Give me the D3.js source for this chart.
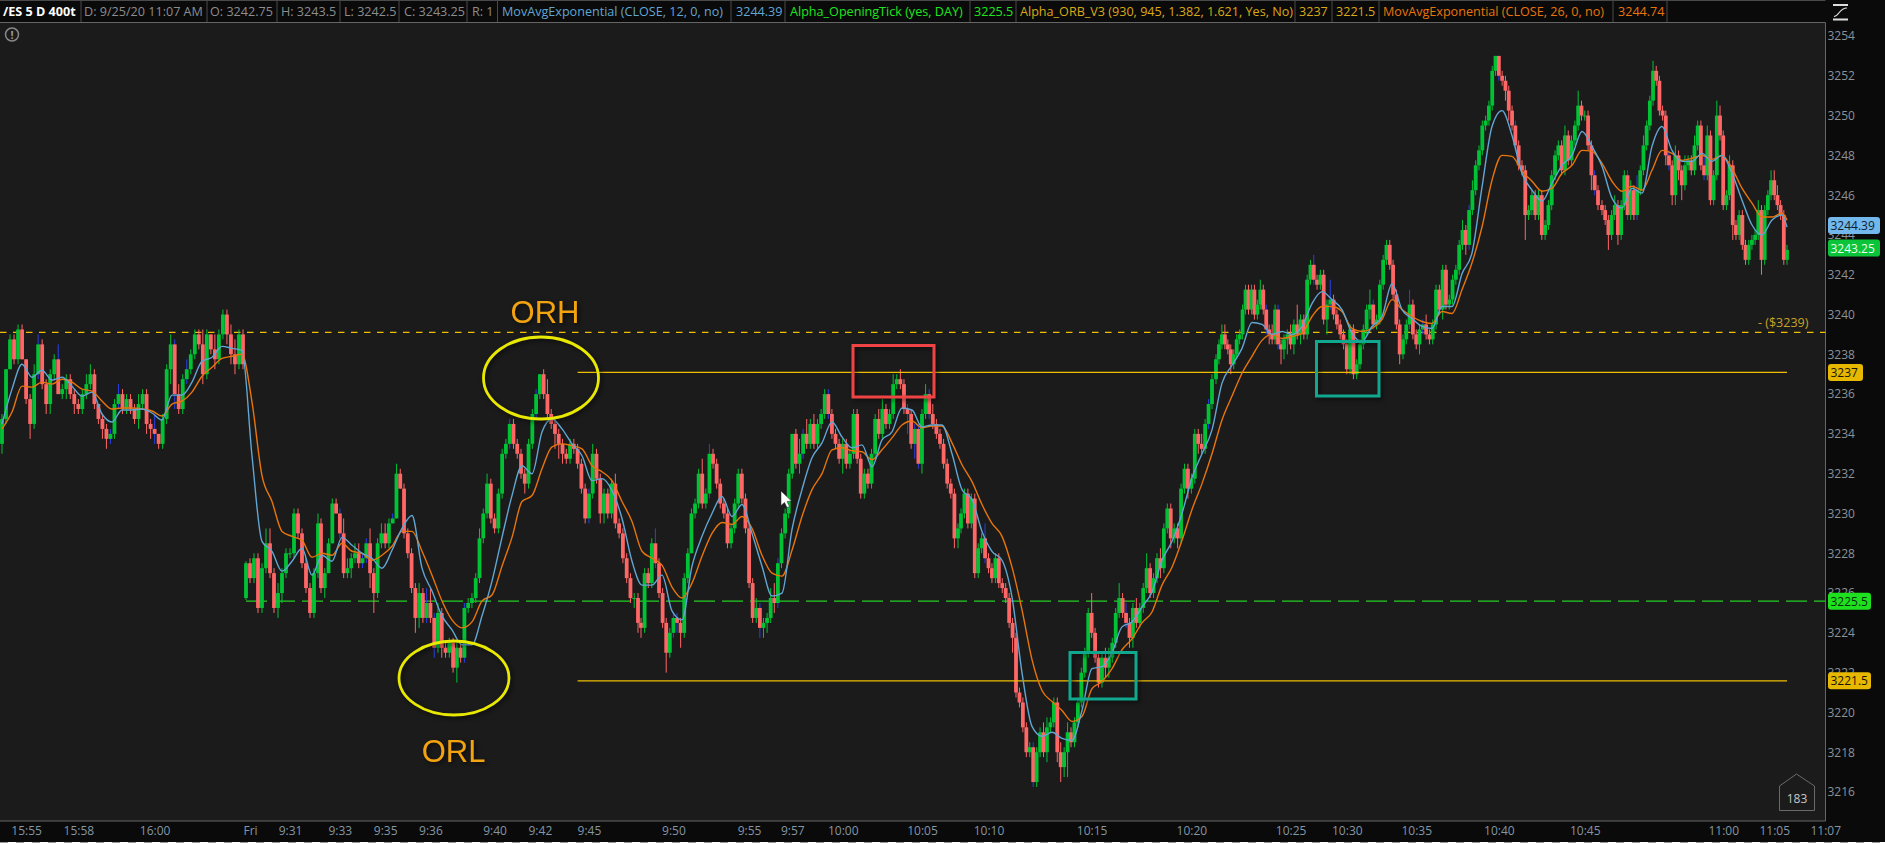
<!DOCTYPE html>
<meta charset="utf-8">
<script src="https://cdn.jsdelivr.net/npm/d3@7"></script>
<style>
	html,body{margin:0;padding:0;background:#1b1b1b;overflow:hidden;}
	text{font-family:"Open Sans",sans-serif;font-size:12px;}
</style>
<div id='chart'></div>
<script>
// prices are stored as offset from 3200, in tick-bar order, one run of arrays per stretch of the chart
var priceBase = 3200
var sessionOpen = 25.75 // first bar after the Fri break

var closesA = [34.75,37.25,38.75,37.75,39.25,37.75,35.75,34.5,37,38.5,36.5,35.5,37,37.75,36,36.25,36.75,36,35.5,35.25,36,36.5,37,35.5,34.75,34.25,33.75,34,35.5,36,35.25,35.75,35.25,34.75,35.5,36,34.5,34.25,34,33.5,34.75,37.25,38.5,36,35.25,36.75,37.25,38,39,38.5,37,39,38.25,37.75,39,40,39,38,37.5,39,37.5]
var wickUpA = [.25,0,.25,.25,.25,.25,0,.25,.5,.5,.25,.25,.25,.25,.75,.25,.25,.25,.25,.25,.25,.5,.5,.25,0,.25,.25,.25,.25,.5,.25,.25,.25,.25,.5,.25,.25,.25,.75,0,.25,.25,.5,.25,.5,.25,.5,.25,.25,.25,.75,.25,0,.75,.25,.25,.25,.5,.75,.25,.25]
var wickDnA = [.5,.25,0,.25,.25,0,.25,.75,.25,.25,.25,.5,.5,.25,0,.25,.5,.25,.5,.25,.25,.25,.25,.25,.25,.5,.5,.25,.25,.25,.25,.25,.25,.25,.5,.25,.5,.5,.5,.25,.25,.25,.75,.75,.25,.25,.25,.25,.25,.25,.5,.25,.25,.5,.25,.25,.5,.5,.5,.25,.25]

var closesB = [27.5,26.75,27.75,25.25,27.25,28.5,27,25.25,26,27,28,28,30,29,27.5,26.25,25,27,29.5]
var wickUpB = [.1,.25,.25,.25,.25,.75,.75,.25,.5,.25,.25,.25,.25,.25,.25,.25,.25,.25,.5]
var wickDnB = [.1,.25,.25,.25,.25,.25,.25,.25,.5,.5,.25,.25,.25,.25,.25,.25,.25,.25,.25]

var closesC = [26.25,27,28.5,30.5,30,29,27,27.25,27.75,28,27.5,27.75,28.5,27,26,28.5,29,28.5,29.5,29.75,32,31.25,29,28,26.25,24.75,26,24.75,25.5,24.75,23.25,25,23.25,23,23.5,22.25,23.25,22.75,25.25,25.5,25.75,26.75,28.75,30,31.5,29.75,29.25,31,33,33.5,34.5,33.5,33,32,31.5,33.5,35,36,37,36,35,34.5,34,33.5,33,32.75,33.5,33.25,32.5,31.25,29.75,31,33,31.75,30,31,30,31.5,29.5,29,27.75,26.75,25.75,25.75,24.5]
var wickUpC = [.25,.25,.25,.25,.25,.25,.75,.5,.25,.5,.5,.25,.25,.75,.25,.25,.5,.5,.25,.25,.5,.25,.25,.25,.25,.25,.5,.25,.75,.75,.25,.5,.25,.25,.25,.25,.25,.25,.25,.25,.25,.25,.5,.25,.5,.25,.25,.25,.25,.25,.25,.25,.25,.25,.25,.25,.25,.25,0,.25,.75,.25,.25,.25,.25,.25,.25,.25,.25,.25,.25,.25,.5,.25,.25,.25,.25,.25,.5,.25,.25,.25,.25,.25,.25]
var wickDnC = [.25,.5,0,0,0,.25,.25,.25,.5,.25,.25,.25,.25,.75,1,.25,.25,.25,.25,0,0,0,.25,.25,.25,.75,.5,.25,.25,.25,.5,.25,.5,.25,.25,.25,.75,.25,.25,.25,.25,.25,.25,.25,.25,.25,.25,.25,.25,.25,.25,.25,.25,.25,.5,.25,.25,.25,.25,.25,.25,.25,.75,.75,.5,.25,.25,.25,.25,.25,.25,.25,.25,.25,.5,.5,.25,.25,.25,.25,.25,.25,.25,.5,.5]

var closesD = [24.25,27,26.5,28.5,27.5,26,24.5,23,24,24.75,24.5,24,26.75,28,30,30.5,32,30.5,31,33,32.5,31.5,30.5,30,28.5,29.25,30.5,32,30.75,29.25,26.5,24.75,25.25,24.25,24.5,24.75,25.75,25.5,27.5,29,30,32,34,32.5,33,34,33.5,34.5,33.5,34.5,35,36,35,34,33.5,32.75,33.5,32.5,33,35,32.75,31,32,31.5,33,34.75,34,35.25,34.5,35,36.5,36.75,36.5,35.25,35,33.5,34.25,32.5,35,36,35,34.5,34,33.5,32.5,31.5,31,28.75,29.25]
var wickUpD = [.25,.25,.25,.25,.75,.25,.25,.25,.25,.25,.25,.25,.25,.25,.25,.25,.25,.75,.25,.5,.25,.25,.25,.25,.25,.25,.25,.25,.25,.25,.25,.25,.5,.25,.25,.25,.5,.75,.25,.25,.25,.25,0,.25,.75,.25,.75,.25,.5,.25,.25,.25,.25,.25,.25,.25,.25,.25,.25,.25,.25,.25,.25,.25,.25,.25,.5,.5,.25,.25,.5,.25,.5,.25,.25,.25,.25,.25,.25,.5,.25,.5,.25,.25,.25,.25,.25,.25,.25]
var wickDnD = [.5,.25,.25,.25,.25,.25,.25,1,.25,.25,.5,.75,.25,.25,0,.25,.25,.25,.25,.25,.25,.25,.25,.25,.25,.25,.25,.25,.25,.25,.25,.25,.25,.5,.5,.5,.25,.5,.25,.25,.25,.25,.25,.25,.5,.25,.25,.25,.25,.25,.25,.25,.25,.25,.25,.25,.75,.25,.25,.25,.25,.25,.25,.25,.25,.25,.25,.25,.25,.25,.25,.25,.25,.25,1,.25,.75,.25,.5,.25,.25,.25,.25,.25,.25,.25,.25,.5,.5]

var closesE = [30,31,29.5,30.75,27,28.25,28.75,27.75,27.25,26.75,27.75,26.5,26.25,25.75,24.5,23.75,21,20.5,19.25,18,18.25,16.5,18,19,18,19.25,19.5,20.5,18,17.25,18,19,18.5,19.5,20.5,22,23,25,24,22.75,21.5,22.75,22.25,22.75,23.5,25,25.75,25,24.5,23.75,25.25,24.5,25.25,26.25,27.25,26,26.75,27.75,27.25,29.25,30.25,28.75,29.25,28.75,31.25,32.25,31.25,31.75,34,33.5,33.25,34.5,35.5,36.75]
var wickUpE = [.25,.25,.25,.25,.25,.25,.25,.75,.25,.25,.25,.25,.25,.25,.25,.25,.25,.25,.25,.25,.25,.25,.25,.25,.5,.5,.25,.25,.25,.5,.25,.5,.25,.25,.25,.25,.25,.25,1,.25,.25,.25,.5,.5,.25,.25,.75,.25,.5,.25,.25,.5,.25,.25,.75,.25,.25,.25,.5,.25,.25,.25,.25,.25,.25,.25,.25,.25,.25,.25,.5,.25,.25,.25]
var wickDnE = [.25,.25,.25,.25,.25,.25,.25,.25,.25,.25,.25,.25,.25,.25,.25,.75,.25,.25,.25,.25,.25,.25,.25,.25,.25,.5,.25,.25,.5,.75,.5,1.25,.25,.25,.25,.25,.25,.25,.25,.25,.25,.25,.5,.5,.25,.25,.25,.25,.25,.5,.5,.25,.25,.25,.25,.25,.25,.25,.5,.25,.25,.5,.25,.5,.25,.25,.5,.25,.25,.5,.25,.25,.25,.25]

var closesF = [37.75,38.5,39,38.5,38.25,37.5,38,38.75,39,40.25,41.25,40.25,41.25,40,40.5,41.25,40.25,39.25,39,38.75,40.25,38.5,38.25]
var wickUpF = [.25,.25,.5,.5,.25,.25,.25,.25,.25,.25,.25,.25,.25,.25,.25,.5,.25,.25,.25,.5,.25,.25,.25]
var wickDnF = [.25,.25,.25,.25,.25,.5,.25,.25,.25,.25,.25,.25,.25,.25,.25,.25,.25,.25,.5,.25,.25,.25,.75]

var closesG = [38.75,39,38.5,39.5,39,39.75,39,41.75,42.5,41.75,41.5,42,39.75,40.5,40.75,40,39.5,39,38.5,37.25,39.25,37,37.5,38.5,39.25,40.25,40.5,39.5,39.75,41.5,42.75,43.5,42.5,41,39.5,38,38.75,39.5,40.5,39,38.5,39.25,39.5,39,38.75,39.5,41.25,40.25,42.25,40.5,40.75,41.75,42.25,43.5,44.25,43.5,45.25,46.25,47.5,48.25,49.5,49.75,50.5,52.25,53,52,51.75,51.25,50.25,49.5,48.5,47.5,47.25,45,45.25,46,45,46,44,44.5,45.5,47,48,48.5,47.25,49,47.75,48.75,49.5,50.5,50,50,48.5,47,46.25,45.5]
var wickUpG = [.25,.25,.5,.25,1,.25,.25,.25,.25,.5,.25,.25,.25,.25,1,.25,.25,.25,.25,.25,.25,.25,.25,.25,.25,.25,.75,.25,.25,.25,.25,.25,.25,.25,.25,.25,.25,.25,.75,.25,.25,.25,.25,.5,.25,.25,.25,.25,.25,.25,.25,.25,.25,.25,.5,.25,.25,.5,.25,.25,.25,.25,.25,.25,0,0,.25,.25,.25,.25,.25,.25,.25,.25,.25,.25,.25,.25,.25,.25,.25,.25,.25,.25,.25,.5,.25,.25,.25,.75,.25,.25,.25,.25,.25,.25]
var wickDnG = [.5,.75,.25,.5,.25,.5,.25,.25,.25,.25,.25,.25,.25,.75,.25,.25,.25,.25,.25,.25,.25,.25,.25,.25,.25,.25,.5,.25,.25,.25,.25,.25,.25,.25,.25,.5,.25,.25,.25,.25,.25,.5,.25,.25,.25,.25,.25,.25,.5,.25,.25,.25,.25,.25,.25,.5,.25,.25,.25,.25,.25,.25,.25,.25,.25,.25,.25,.5,.5,.25,.25,.25,.25,1.25,.25,.25,.25,.25,.25,.25,.25,.25,.25,.25,.25,.25,.25,.25,.25,.25,.25,.25,.25,.75,.25,.25]

var closesH = [45.25,44.75,44,45,45.5,44,45.5,47,45,46.25,45,46.25,47.25,48.5,49.5,50.75,52.25,51.75,50.25,50,48,47.5,46,48,47.25,46.5,47.5,47.75,47.25,48.5,49.5,47.5,47,49,45.75,47,50,49,45.5,46,47.5,44.5,44,45,43.5,42.75,43.5,43.75,44,45.25,42.75,45.25,46,46.75,46,45.5,45,42.75,43.25]
var wickUpH = [.25,.25,.25,.25,.5,.25,.25,.25,.25,.5,.25,.75,.25,.5,.25,.25,.5,.25,.25,.25,.25,.25,.25,.5,.25,.25,.5,.25,.25,.5,.25,.25,.5,.5,.25,.25,.75,.5,.25,.25,.5,.25,.25,.25,.25,.25,.25,.25,.25,.5,.25,.25,.25,.5,.5,.5,.25,.25,.25]
var wickDnH = [.25,.25,.75,.25,.25,.5,.25,.25,.25,.25,.25,.25,.25,.25,.25,.25,.25,.25,.25,.25,.5,.25,.5,.5,.5,.75,.25,.25,.25,.25,.25,.25,.25,.25,.25,.25,.25,.25,.25,.25,.25,.75,.25,.25,.25,.25,.25,.25,.25,.25,.75,.25,.25,.25,.25,.25,.25,.25,.25]

// wicks drawn dark blue in the reference
var blueBars = [9,14,27,29,38,43,46,85,91,92,99,108,110,118,130,137,151,169,174,175,184,198,203,210,217,239,241,242,245,261,275,302,326,345,349,360,365,378,389,393,407,416,421,445,455,458,468,479]

// EMA lines, one reading every 10px of the chart
var emaFast = [34.5,36.25,37.5,36.85,37.2,36.7,36.85,36.4,35.9,36.1,35,34.6,35.2,35.2,35.25,35.05,34.7,35.95,35.95,36.6,37.65,37.85,38.4,38.3,38.2,32.9,28.6,28.1,27.1,27.6,28.25,26.9,27.9,27.6,28.8,28.4,28,27.75,27.25,28.15,29.25,29.9,27.25,26.1,24.85,24.15,23.4,23.4,24.85,26.6,28.8,30.9,32.4,32,34.1,34.75,34.25,33.5,32.9,31.65,31.75,31.15,29.75,27.6,26.4,26.4,26.9,25.1,24.65,27.35,28.85,30,30.85,29.85,30.45,29,27.35,25.85,26,29.2,31.2,32.8,33.55,34.6,33.85,33.3,33.45,32.35,33.7,34.1,35.3,35.2,34.35,34.45,34.45,33,31.2,30.7,29.1,28.1,27.65,25.8,22,19.3,18.8,19,18.7,18.6,20.1,22.2,22.3,23,24.3,24.55,25.3,26.05,27.65,28.6,30,31.8,33,34.2,36.55,37.45,38.3,39.6,39.5,39,39.15,39,39.4,40.55,41.15,40.75,40.25,39.05,38.65,39.4,39.9,41.55,40.25,39.8,39.4,39.3,40.4,40.4,42.05,43.1,46.4,49.45,50.25,49,47.1,46.25,45.7,46.6,47.5,48,49.2,48.45,47.45,45.85,45.35,46.35,46.1,48.45,49.45,48.25,47.7,47.7,48.1,47.7,48,47.1,45.75,44.5,44,44.75,45,44.39]
var emaSlow = [34.25,35.1,36.4,36.35,36.6,36.5,36.75,36.6,36.25,36.15,35.65,35.25,35.3,35.3,35.25,35.15,34.9,35.5,35.65,36.1,36.9,37.35,37.8,37.9,38,35.6,31.9,30.6,29.1,28.85,28.65,27.8,28,27.9,28.5,28.1,28,27.65,27.9,28.35,29.1,29.1,28.1,26.9,25.6,24.65,24.25,24.55,25.6,25.9,27.35,28.8,30.6,30.9,32.25,33.35,33.5,33.4,33.25,32.4,32.1,31.65,30.6,29.6,28.1,27.75,27.4,26.3,25.75,26.5,27.85,29,29.55,29.45,29.85,29.25,27.9,27,26.85,28.15,29.85,31.2,32,33.2,33.3,33.15,33.1,32.7,33.2,33.8,34.45,34.65,34.3,34.4,34.4,33.55,32.45,31.6,30.45,29.5,28.85,27.3,25.15,22.65,21.1,20.55,20.1,19.55,19.8,21.2,21.55,22.2,23.15,23.7,24.5,25.05,26.4,27.3,28.65,30.2,31.5,33,34.7,35.9,37.05,37.9,38.7,39,38.8,38.9,39.05,39.9,40.4,40.4,40.15,39.3,39.15,39.3,39.75,40.75,40.25,39.9,39.65,39.55,40.15,40.05,41.25,42.6,44.4,46.75,48,47.95,47.2,46.7,46.2,46.35,47.1,47.5,48.25,48.2,47.6,46.7,46.2,46.45,46.25,47.25,48.25,48.1,47.75,47.85,48,47.8,48,47.35,46.35,45.6,44.9,44.9,45.1,44.74]

var yTicks = [3216,3218,3220,3222,3224,3226,3228,3230,3232,3234,3236,3238,3240,3242,3244,3246,3248,3250,3252,3254]
var timeLabels = ["15:55","15:58","16:00","Fri","9:31","9:33","9:35","9:36","9:40","9:42","9:45","9:50","9:55","9:57","10:00","10:05","10:10","10:15","10:20","10:25","10:30","10:35","10:40","10:45","11:00","11:05","11:07"]
var timeBars = [6,19,38,62,72,85,97,109,126,138,151,174,195,207,221,243,262,292,321,353,370,391,416,442,485,501,517]

var priceLines = [3237,3221.5]
var headerLabels = ["/ES 5 D 400t","D: 9/25/20 11:07 AM","O: 3242.75","H: 3243.5","L: 3242.5","C: 3243.25","R: 1","MovAvgExponential (CLOSE, 12, 0, no)","3244.39","Alpha_OpeningTick (yes, DAY)","3225.5","Alpha_ORB_V3 (930, 945, 1.382, 1.621, Yes, No)","3237","3221.5","MovAvgExponential (CLOSE, 26, 0, no)","3244.74"]

var width = 1885
var height = 843
var plotRight = 1825.5
var plotTop = 22.5
var plotBottom = 821

var GREEN = "#00c234", RED = "#ff6666", BLUE = "#2b3fe8", YELLOW = "#efbe00", FASTC = "#62a6d4", SLOWC = "#e8750c"

var svg = d3.select("#chart").append("svg").attr("width",width).attr("height",height).style("display","block")

// ---- put the stretches together
var closes = closesA.concat(closesB,closesC,closesD,closesE,closesF,closesG,closesH)
var wickUp = wickUpA.concat(wickUpB,wickUpC,wickUpD,wickUpE,wickUpF,wickUpG,wickUpH)
var wickDn = wickDnA.concat(wickDnB,wickDnC,wickDnD,wickDnE,wickDnF,wickDnG,wickDnH)
var breakBar = closesA.length
var bars = closes.map(function(c,i){
	var open = i==0 ? 33.5 : (i==breakBar ? sessionOpen : closes[i-1])
	return {i:i,open:open,close:c,
		high:Math.max(open,c)+(wickUp[i]||0),
		low:Math.min(open,c)-(wickDn[i]||0)}
})

// tick chart: bar spacing drifts a bit along the chart, so x is piecewise between stretches
var lens = [closesA,closesB,closesC,closesD,closesE,closesF,closesG,closesH].map(function(a){return a.length})
var stretchX = [[2,243],[246,318],[321,638],[641,958],[961,1212],[1216,1281],[1284,1598],[1602,1787]]
var xDomain = [], xRange = [], pos = 0
lens.forEach(function(n,k){
	xDomain.push(pos,pos+n-1)
	xRange.push(stretchX[k][0],stretchX[k][1])
	pos += n
})
var x = d3.scaleLinear().domain(xDomain).range(xRange)
var y = d3.scaleLinear().domain([3216,3254]).range([792,36])
// the study lines and badges sit a little above the axis labels
var levelY = d3.scaleLinear().domain([3216,3254]).range([790.2,34.2])
function py(v){return y(priceBase+v)}

// ---- background
svg.append("rect").attr("width",width).attr("height",height).attr("fill","#0a0a0a")
svg.append("rect").attr("x",0).attr("y",plotTop).attr("width",plotRight).attr("height",plotBottom-plotTop).attr("fill","#1b1b1b")

// axes
var yAxis = d3.axisRight(y).tickValues(yTicks).tickSize(0).tickPadding(2).tickFormat(d3.format("d"))
var gy = svg.append("g").attr("transform","translate("+plotRight+",0)").call(yAxis)
gy.select(".domain").remove()
gy.selectAll("text").attr("fill","#8b9298").style("font-size","12px").style("font-family",'"Open Sans",sans-serif')

var xAxis = d3.axisBottom(x).tickValues(timeBars).tickSize(0).tickPadding(5).tickFormat(function(d,i){return timeLabels[i]})
var gx = svg.append("g").attr("transform","translate(0,"+plotBottom+")").call(xAxis)
gx.select(".domain").remove()
gx.selectAll("text").attr("fill","#8496a4").style("font-size","12px").style("font-family",'"Open Sans",sans-serif')

svg.append("line").attr("x1",plotRight).attr("x2",plotRight).attr("y1",plotTop).attr("y2",plotBottom).attr("stroke","#666")
svg.append("line").attr("x1",0).attr("x2",plotRight).attr("y1",plotBottom).attr("y2",plotBottom).attr("stroke","#666")

// ---- level lines under the bars
svg.append("line").attr("x1",0).attr("x2",plotRight).attr("y1",y(3239.1)).attr("y2",y(3239.1))
	.attr("stroke",YELLOW).attr("stroke-width",1.2).attr("stroke-dasharray","6.5 6.5")
svg.append("line").attr("x1",x(breakBar)).attr("x2",plotRight).attr("y1",levelY(3225.5)).attr("y2",levelY(3225.5))
	.attr("stroke","#22d022").attr("stroke-width",1.2).attr("stroke-dasharray","21 7")

// ---- bars
var g = svg.append("g")
g.selectAll("line.wick").data(bars).enter().append("line").attr("class","wick")
	.attr("x1",function(d){return x(d.i)}).attr("x2",function(d){return x(d.i)})
	.attr("y1",function(d){return py(d.high)}).attr("y2",function(d){return py(d.low)})
	.attr("stroke",function(d){
		if(blueBars.indexOf(d.i)!=-1) return BLUE
		return d.close>=d.open ? GREEN : RED
	})
	.attr("stroke-width",1)
g.selectAll("rect.body").data(bars).enter().append("rect").attr("class","body")
	.attr("x",function(d){return x(d.i)-1.9}).attr("width",3.8)
	.attr("y",function(d){return py(Math.max(d.open,d.close))})
	.attr("height",function(d){return Math.max(1,Math.abs(py(d.open)-py(d.close)))})
	.attr("fill",function(d){return d.close>=d.open ? GREEN : RED})

// ---- opening range lines, over the bars
var orStartBar = 148
priceLines.forEach(function(p){
	svg.append("line").attr("x1",x(orStartBar)).attr("x2",x(closes.length-1)).attr("y1",levelY(p)).attr("y2",levelY(p))
		.attr("stroke",YELLOW).attr("stroke-width",1.3)
})
svg.append("text").attr("x",1758).attr("y",327).attr("fill","#c9a227").style("font-size","12.5px").text("- ($3239)")

// ---- moving averages
var emaX = d3.scaleLinear().domain([0,emaFast.length-2,emaFast.length-1]).range([x(0),1782,x(closes.length-1)])
var emaLine = d3.line().curve(d3.curveMonotoneX)
	.x(function(d,i){return emaX(i)})
	.y(function(d){return py(d)})
svg.append("path").datum(emaSlow).attr("fill","none").attr("stroke",SLOWC).attr("stroke-width",1.4).attr("d",emaLine)
svg.append("path").datum(emaFast).attr("fill","none").attr("stroke",FASTC).attr("stroke-width",1.4).attr("d",emaLine)

// ---- hand drawn annotations
var notes = svg.append("g").style("filter","drop-shadow(2px 2px 2px rgba(0,0,0,.55))")
notes.append("ellipse").attr("cx",541).attr("cy",378).attr("rx",57.5).attr("ry",41).attr("fill","none").attr("stroke","#e8e800").attr("stroke-width",2.8)
notes.append("ellipse").attr("cx",454).attr("cy",678).attr("rx",55).attr("ry",37).attr("fill","none").attr("stroke","#e8e800").attr("stroke-width",2.8)
notes.append("rect").attr("x",853).attr("y",345.5).attr("width",81).attr("height",51.5).attr("fill","none").attr("stroke","#f04444").attr("stroke-width",3)
notes.append("rect").attr("x",1070).attr("y",652.5).attr("width",66).attr("height",46.5).attr("fill","none").attr("stroke","#10a88f").attr("stroke-width",3)
notes.append("rect").attr("x",1316.5).attr("y",341.5).attr("width",62.5).attr("height",54.5).attr("fill","none").attr("stroke","#10a88f").attr("stroke-width",3)
notes.append("text").attr("x",545).attr("y",323).attr("text-anchor","middle").attr("fill","#f2a30f")
	.style("font-family",'"Liberation Sans",sans-serif').style("font-size","31px").text("ORH")
notes.append("text").attr("x",453.5).attr("y",762).attr("text-anchor","middle").attr("fill","#f2a30f")
	.style("font-family",'"Liberation Sans",sans-serif').style("font-size","31px").text("ORL")

// mouse pointer
svg.append("path").attr("d","M781 491L781 505.5L784.5 502.5L787 507.5L789.5 506.5L787 501.5L791.5 501Z").attr("fill","#fff").attr("stroke","#222").attr("stroke-width",.5)

// ---- header strip
var headerX = [3,84,210,281,344,404,472,502,736,790,974,1020,1299,1336,1383,1618]
var headerColors = ["#fff","#8d8d8d","#8d8d8d","#8d8d8d","#8d8d8d","#8d8d8d","#8d8d8d",FASTC,FASTC,"#1ee61e","#1ee61e","#d9a918","#d9a918","#d9a918",SLOWC,SLOWC]
var headerSeps = [81,207,277,340,399,467,497.5,731,785,970,1016,1295,1332,1379,1613,1667]
svg.append("rect").attr("width",plotRight).attr("height",22).attr("fill","#0a0a0a")
svg.append("line").attr("x1",0).attr("x2",plotRight).attr("y1",.5).attr("y2",.5).attr("stroke","#4a4a4a")
svg.append("line").attr("x1",0).attr("x2",plotRight).attr("y1",plotTop).attr("y2",plotTop).attr("stroke","#666")
svg.selectAll("line.sep").data(headerSeps).enter().append("line").attr("class","sep")
	.attr("x1",function(d){return d}).attr("x2",function(d){return d}).attr("y1",1).attr("y2",22).attr("stroke","#4a4a4a")
svg.selectAll("text.head").data(headerLabels).enter().append("text").attr("class","head")
	.attr("x",function(d,i){return headerX[i]}).attr("y",16)
	.attr("fill",function(d,i){return headerColors[i]})
	.style("font-size","12.6px")
	.style("font-weight",function(d,i){return i==0?"700":"400"})
	.text(function(d){return d})

// top right style icon
svg.append("path").attr("d","M1833 5H1848M1833 19.5H1848").attr("stroke","#ddd").attr("stroke-width",2)
svg.append("path").attr("d","M1834 16.5C1839 16.5 1839 8 1847 8").attr("fill","none").attr("stroke","#ddd").attr("stroke-width",1.2)

// warning icon
svg.append("circle").attr("cx",12).attr("cy",34.5).attr("r",6.5).attr("fill","none").attr("stroke","#888").attr("stroke-width",1.5)
svg.append("text").attr("x",12).attr("y",38.5).attr("text-anchor","middle").attr("fill","#999").style("font-size","11px").style("font-weight","700").text("!")

// ---- price badges on the right axis
var badges = [
	{p:3244.39,label:"3244.39",w:52,fill:"#72b8ec",ink:"#102030"},
	{p:3243.25,label:"3243.25",w:52,fill:"#0cc43a",ink:"#e8ffe8"},
	{p:3237,label:"3237",w:35,fill:"#e6b800",ink:"#1a1400"},
	{p:3225.5,label:"3225.5",w:43,fill:"#1fe01f",ink:"#063006"},
	{p:3221.5,label:"3221.5",w:43,fill:"#e6b800",ink:"#1a1400"}
]
badges.forEach(function(b){
	svg.append("rect").attr("x",1828).attr("y",levelY(b.p)-8.5).attr("width",b.w).attr("height",17).attr("rx",3).attr("fill",b.fill)
	svg.append("text").attr("x",1830.5).attr("y",levelY(b.p)+4.5).attr("fill",b.ink).text(b.label)
})

// bar counter
svg.append("path").attr("d","M1779.5 786L1796.5 774L1814.5 786V810.5H1779.5Z").attr("fill","none").attr("stroke","#6a6a6a")
svg.append("text").attr("x",1797).attr("y",803).attr("text-anchor","middle").attr("fill","#c8c8c8").text("183")

// last row of the screenshot
svg.append("rect").attr("x",0).attr("y",842).attr("width",width).attr("height",1).attr("fill","#fff")
svg.append("line").attr("x1",0).attr("x2",width).attr("y1",842.5).attr("y2",842.5).attr("stroke","#9a9a9a").attr("stroke-dasharray","8 8")
</script>
